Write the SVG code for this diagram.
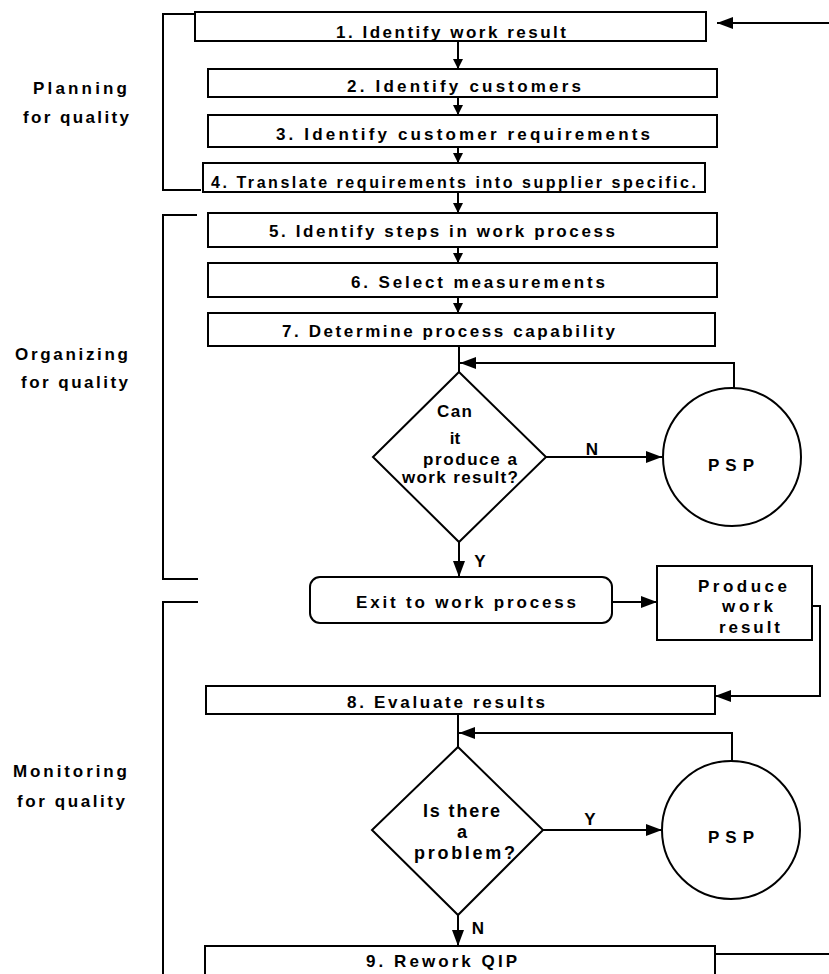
<svg xmlns="http://www.w3.org/2000/svg" width="829" height="974" viewBox="0 0 829 974">
<defs>
<marker id="ah" viewBox="0 0 10 10" refX="10" refY="5" markerWidth="10" markerHeight="11" markerUnits="userSpaceOnUse" orient="auto"><path d="M0,0 L10,5 L0,10 z" fill="#000"/></marker>
<marker id="ahl" viewBox="0 0 16 12" refX="16" refY="6" markerWidth="16" markerHeight="12" markerUnits="userSpaceOnUse" orient="auto"><path d="M0,0 L16,6 L0,12 z" fill="#000"/></marker>
</defs>
<style>
.box{fill:#fff;stroke:#000;stroke-width:2}
.ln{fill:none;stroke:#000;stroke-width:2}
.t{font-family:"Liberation Sans",Arial,sans-serif;font-weight:bold;font-size:17px;fill:#000}
.c{text-anchor:middle}
.lbl{font-family:"Liberation Sans",Arial,sans-serif;font-weight:bold;font-size:17px;fill:#000}
</style>
<rect width="829" height="974" fill="#fff"/>
<g id="labels">
<text class="lbl" x="33" y="94" textLength="94" lengthAdjust="spacing">Planning</text>
<text class="lbl" x="23" y="123" textLength="106" lengthAdjust="spacing">for quality</text>
<text class="lbl" x="15" y="360" textLength="113" lengthAdjust="spacing">Organizing</text>
<text class="lbl" x="21" y="388" textLength="107" lengthAdjust="spacing">for quality</text>
<text class="lbl" x="13" y="777" textLength="114" lengthAdjust="spacing">Monitoring</text>
<text class="lbl" x="17" y="807" textLength="108" lengthAdjust="spacing">for quality</text>
</g>
<g id="connectors">
<polyline class="ln" points="196,14 163,14 163,190 201,190"/>
<polyline class="ln" points="197,215 163,215 163,579 198,579"/>
<polyline class="ln" points="198,602 163,602 163,974"/>
<line class="ln" x1="829" y1="23" x2="717" y2="23" marker-end="url(#ahl)"/>
<line class="ln" x1="458" y1="41" x2="458" y2="69" marker-end="url(#ah)"/>
<line class="ln" x1="458" y1="97" x2="458" y2="115" marker-end="url(#ah)"/>
<line class="ln" x1="458" y1="147" x2="458" y2="163" marker-end="url(#ah)"/>
<line class="ln" x1="458" y1="192" x2="458" y2="213" marker-end="url(#ah)"/>
<line class="ln" x1="458" y1="247" x2="458" y2="263" marker-end="url(#ah)"/>
<line class="ln" x1="458" y1="297" x2="458" y2="313" marker-end="url(#ah)"/>
<line class="ln" x1="459" y1="346" x2="459" y2="372"/>
<polyline class="ln" points="734,388 734,363 460,363" marker-end="url(#ahl)"/>
<line class="ln" x1="546" y1="457" x2="662" y2="457" marker-end="url(#ahl)"/>
<line class="ln" x1="459" y1="542" x2="459" y2="577" marker-end="url(#ahl)"/>
<line class="ln" x1="612" y1="602" x2="657" y2="602" marker-end="url(#ahl)"/>
<polyline class="ln" points="812,606 820,606 820,696 715,696" marker-end="url(#ahl)"/>
<line class="ln" x1="458" y1="714" x2="458" y2="747"/>
<polyline class="ln" points="732,761 732,733 459,733" marker-end="url(#ahl)"/>
<line class="ln" x1="543" y1="830" x2="662" y2="830" marker-end="url(#ahl)"/>
<line class="ln" x1="458" y1="915" x2="458" y2="946" marker-end="url(#ahl)"/>
<line class="ln" x1="715" y1="954" x2="829" y2="954"/>
</g>
<g id="n1"><rect class="box" x="195" y="12" width="511" height="29"/><text class="t" x="336" y="38" textLength="230" lengthAdjust="spacing">1. Identify work result</text></g>
<g id="n2"><rect class="box" x="208" y="69" width="509" height="28"/><text class="t" x="347" y="92" textLength="234" lengthAdjust="spacing">2. Identify customers</text></g>
<g id="n3"><rect class="box" x="208" y="115" width="509" height="32"/><text class="t" x="276" y="140" textLength="374" lengthAdjust="spacing">3. Identify customer requirements</text></g>
<g id="n4"><rect class="box" x="203" y="163" width="502" height="29"/><text class="t" x="211" y="188" textLength="485" lengthAdjust="spacing" style="font-size:16px">4. Translate requirements into supplier specific.</text></g>
<g id="n5"><rect class="box" x="208" y="213" width="509" height="34"/><text class="t" x="269" y="237" textLength="346" lengthAdjust="spacing">5. Identify steps in work process</text></g>
<g id="n6"><rect class="box" x="208" y="263" width="509" height="34"/><text class="t" x="351" y="288" textLength="254" lengthAdjust="spacing">6. Select measurements</text></g>
<g id="n7"><rect class="box" x="208" y="313" width="507" height="33"/><text class="t" x="282" y="337" textLength="333" lengthAdjust="spacing">7. Determine process capability</text></g>
<g id="d1"><polygon class="box" points="459,372 546,457 459,542 373,457"/>
<text class="t" x="437" y="417" textLength="35" lengthAdjust="spacing">Can</text>
<text class="t c" x="455" y="444">it</text>
<text class="t" x="423" y="465" textLength="94" lengthAdjust="spacing">produce a</text>
<text class="t" x="402" y="483" textLength="116" lengthAdjust="spacing">work result?</text></g>
<text class="t c" x="592" y="455">N</text>
<text class="t c" x="480" y="567">Y</text>
<g id="psp1"><circle class="box" cx="732" cy="457" r="69"/><text class="t" x="708" y="471" textLength="46" lengthAdjust="spacing">P S P</text></g>
<g id="exit"><rect class="box" x="310" y="577" width="302" height="46" rx="10"/><text class="t" x="356" y="608" textLength="220" lengthAdjust="spacing">Exit to work process</text></g>
<g id="produce"><rect class="box" x="657" y="566" width="155" height="74"/>
<text class="t" x="698" y="592" textLength="89" lengthAdjust="spacing">Produce</text>
<text class="t" x="722" y="612" textLength="51" lengthAdjust="spacing">work</text>
<text class="t" x="719" y="633" textLength="61" lengthAdjust="spacing">result</text></g>
<g id="n8"><rect class="box" x="206" y="686" width="509" height="28"/><text class="t" x="347" y="708" textLength="198" lengthAdjust="spacing">8. Evaluate results</text></g>
<g id="d2"><polygon class="box" points="458,747 543,830 458,915 372,830"/>
<text class="t" x="423" y="817" style="font-size:18px" textLength="77" lengthAdjust="spacing">Is there</text>
<text class="t c" x="462" y="838" style="font-size:18px">a</text>
<text class="t" x="414" y="859" style="font-size:18px" textLength="101" lengthAdjust="spacing">problem?</text></g>
<text class="t c" x="590" y="825">Y</text>
<text class="t c" x="478" y="934">N</text>
<g id="psp2"><circle class="box" cx="731" cy="830" r="69"/><text class="t" x="708" y="843" textLength="46" lengthAdjust="spacing">P S P</text></g>
<g id="n9"><rect class="box" x="205" y="946" width="510" height="40"/><text class="t" x="366" y="967" textLength="151" lengthAdjust="spacing">9. Rework QIP</text></g>
</svg>
